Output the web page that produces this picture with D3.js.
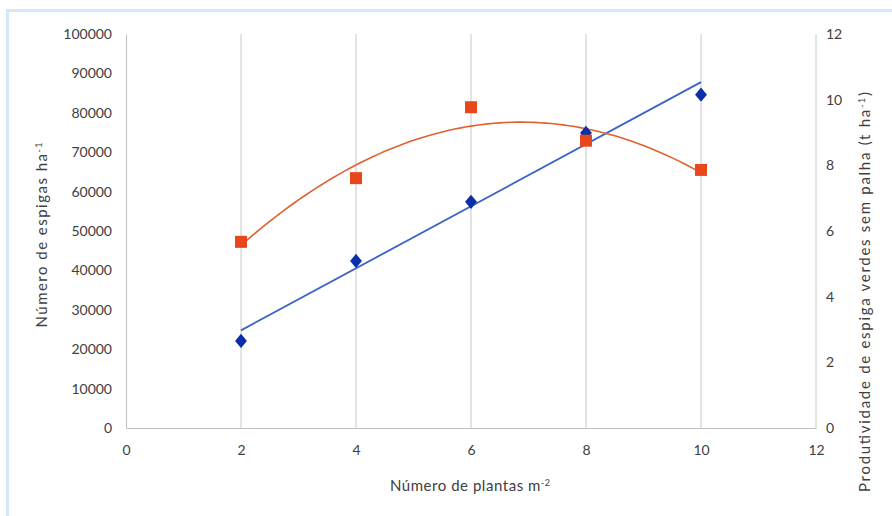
<!DOCTYPE html>
<html><head><meta charset="utf-8">
<script src="https://cdn.jsdelivr.net/npm/d3@7"></script>
<style>
html,body{margin:0;padding:0;background:#fff;}
svg text{font-family:Lato,"Open Sans",sans-serif;fill:#404040;}
</style></head>
<body>
<svg id="chart" width="892" height="516"></svg>
<script>
const plantas = [2, 4, 6, 8, 10];
const espigas = [22100, 42400, 57400, 74900, 84600];
const produtividade = [5.67, 7.61, 9.77, 8.75, 7.86];
const xTicks = [0, 2, 4, 6, 8, 10, 12];
const yLeftTicks = [0,10000,20000,30000,40000,50000,60000,70000,80000,90000,100000];
const yRightTicks = [0, 2, 4, 6, 8, 10, 12];

const svg = d3.select("#chart");
const M = {left:126, right:816, top:34, bottom:428};
const x = d3.scaleLinear().domain([0,12]).range([M.left, M.right]);
const yL = d3.scaleLinear().domain([0,100000]).range([M.bottom, M.top]);
const yR = d3.scaleLinear().domain([0,12]).range([M.bottom, M.top]);

// frame
svg.append("rect").attr("x",7.5).attr("y",10.5).attr("width",900).attr("height",520)
  .attr("fill","#fff").attr("stroke","#d5e7f8").attr("stroke-width",3);

// vertical gridlines
svg.append("g").selectAll("line").data(xTicks.filter(d=>d>0)).join("line")
  .attr("x1",d=>x(d)).attr("x2",d=>x(d)).attr("y1",M.top).attr("y2",M.bottom)
  .attr("stroke","#c8c8c8").attr("stroke-width",1);

// x axis
const gx = svg.append("g").attr("transform",`translate(0,${M.bottom})`)
  .call(d3.axisBottom(x).tickValues(xTicks).tickSize(0).tickPadding(17).tickFormat(d3.format("d")));
gx.select(".domain").attr("stroke","#c0c0c0");
gx.selectAll("text").attr("font-size",14);

// left axis
const gl = svg.append("g").attr("transform",`translate(${M.left},0)`)
  .call(d3.axisLeft(yL).tickValues(yLeftTicks).tickSize(0).tickPadding(14).tickFormat(d3.format("d")));
gl.select(".domain").attr("stroke","#c0c0c0");
gl.selectAll("text").attr("font-size",14);

// right axis
const gr = svg.append("g").attr("transform",`translate(${M.right},0)`)
  .call(d3.axisRight(yR).tickValues(yRightTicks).tickSize(0).tickPadding(10).tickFormat(d3.format("d")));
gr.select(".domain").remove();
gr.selectAll("text").attr("font-size",14);

// titles
svg.append("text").attr("x",470).attr("y",491).attr("text-anchor","middle").attr("font-size",15)
  .attr("textLength",160).attr("lengthAdjust","spacing")
  .html('Número de plantas m<tspan dy="-5" font-size="9">-2</tspan>');
svg.append("text").attr("transform","translate(47,235) rotate(-90)").attr("text-anchor","middle").attr("font-size",15)
  .attr("textLength",185).attr("lengthAdjust","spacing")
  .html('Número de espigas ha<tspan dy="-5" font-size="9">-1</tspan>');
svg.append("text").attr("transform","translate(870,292) rotate(-90)").attr("text-anchor","middle").attr("font-size",15)
  .attr("textLength",400).attr("lengthAdjust","spacing")
  .html('Produtividade de espiga verdes sem palha (t ha<tspan dy="-5" font-size="9">-1</tspan><tspan dy="5">)</tspan>');

// regressions computed from data
const mx = d3.mean(plantas), my = d3.mean(espigas);
const slope = d3.sum(plantas.map((v,i)=>(v-mx)*(espigas[i]-my))) / d3.sum(plantas.map(v=>(v-mx)**2));
const icpt = my - slope*mx;
function quadFit(xs, ys){
  let S=[0,0,0,0,0], T=[0,0,0];
  xs.forEach((xv,i)=>{ for(let k=0;k<5;k++) S[k]+=xv**k; for(let k=0;k<3;k++) T[k]+=ys[i]*xv**k; });
  const A=[[S[0],S[1],S[2],T[0]],[S[1],S[2],S[3],T[1]],[S[2],S[3],S[4],T[2]]];
  for(let c=0;c<3;c++){ for(let r=c+1;r<3;r++){ const f=A[r][c]/A[c][c]; for(let k=c;k<4;k++) A[r][k]-=f*A[c][k]; } }
  const s=[0,0,0];
  for(let r=2;r>=0;r--){ let v=A[r][3]; for(let k=r+1;k<3;k++) v-=A[r][k]*s[k]; s[r]=v/A[r][r]; }
  return s;
}
const q = quadFit(plantas, produtividade);
const xs = d3.range(2, 10.001, 0.1);

svg.append("path").datum([2,10])
  .attr("d", d3.line().x(d=>x(d)).y(d=>yL(icpt+slope*d)))
  .attr("fill","none").attr("stroke","#3a62c8").attr("stroke-width",1.8);
svg.append("path").datum(xs)
  .attr("d", d3.line().x(d=>x(d)).y(d=>yR(q[0]+q[1]*d+q[2]*d*d)))
  .attr("fill","none").attr("stroke","#e0612d").attr("stroke-width",1.6);

// markers
svg.append("g").selectAll("path").data(plantas).join("path")
  .attr("d", d3.symbol(d3.symbolDiamond2, 90))
  .attr("transform",(d,i)=>`translate(${x(d)},${yL(espigas[i])}) scale(1.0,1.2)`)
  .attr("fill","#0a2fa8");
svg.append("g").selectAll("rect").data(plantas).join("rect")
  .attr("x",d=>x(d)-6).attr("y",(d,i)=>yR(produtividade[i])-6)
  .attr("width",12).attr("height",12).attr("fill","#e8461b");
</script>
</body></html>
